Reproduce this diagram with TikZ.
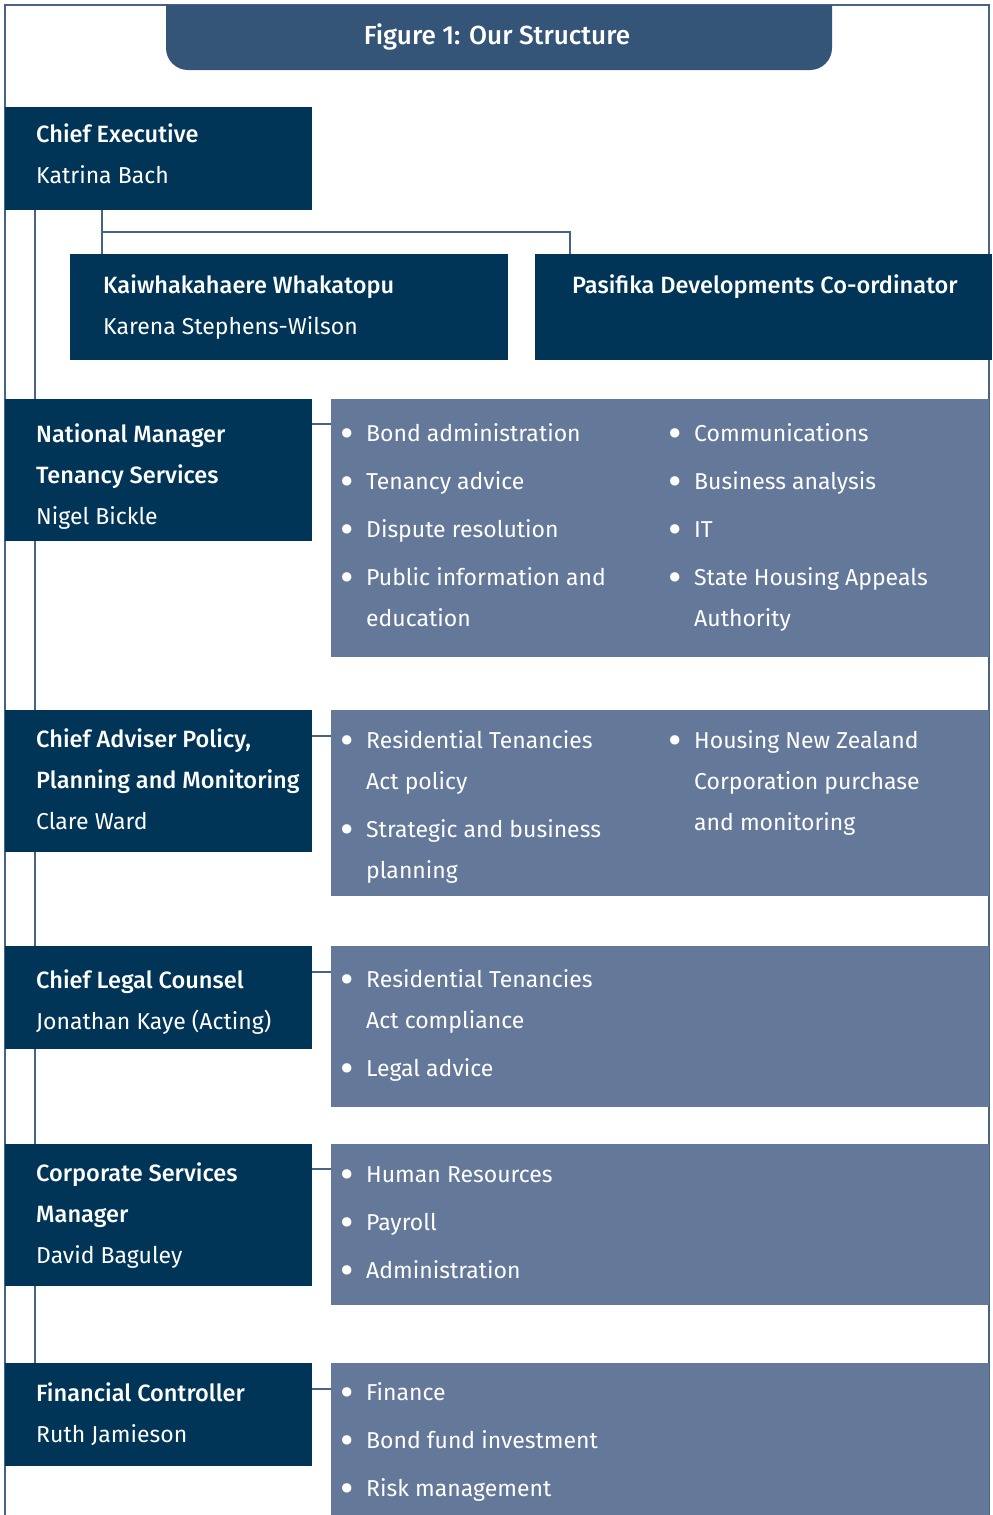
\documentclass[tikz,border=0pt]{standalone}
\usepackage{fontspec}
\setmainfont{Fira Sans}[BoldFont={Fira Sans Medium}, BoldFeatures={Scale=1.025}]

\definecolor{navy}{RGB}{0,53,87}
\definecolor{slate}{RGB}{100,120,154}
\definecolor{banner}{RGB}{52,84,120}
\definecolor{wire}{RGB}{72,100,132}

\newcommand\bul{\makebox[26pt][l]{\raisebox{-6.5pt}{\scalebox{1.8}{\textbullet}}}}
\newcommand\bulpad{\hspace*{26pt}}

\tikzset{
  rolebox/.style={fill=navy, anchor=north west, inner sep=0pt, minimum width=307pt},
  roletext/.style={anchor=west, align=left, inner sep=0pt},
  dutybox/.style={fill=slate, anchor=north west, inner sep=0pt, minimum width=658pt},
  duties/.style={anchor=north west, align=left, inner sep=0pt},
  wire/.style={draw=wire, line width=1.4pt}
}

\begin{document}
\begin{tikzpicture}[x=1pt,y=-1pt,
  every node/.style={font=\fontsize{23}{41}\selectfont, text=white}]
\useasboundingbox (0,0) rectangle (993,1515);

% outer frame, open at the bottom
\draw[wire] (5,1515) -- (5,5) -- (989,5) -- (989,1515);

% title tab
\fill[banner] (166,5) [rounded corners=22pt] -- (166,70) -- (832,70) [sharp corners] -- (832,5) -- cycle;
\node[font=\fontsize{25.5}{30}\selectfont\bfseries] (title) at (497,37) {Figure 1: Our Structure};

% top level
\node[rolebox, minimum height=103pt] (ce) at (5,107) {};
\node[roletext] (ce-t) at ([shift={(31,-5)}]ce.west) {\textbf{Chief Executive}\\Katrina Bach};

\node[rolebox, minimum width=438pt, minimum height=106pt] (kaiw) at (70,254) {};
\node[roletext] (kaiw-t) at ([xshift=33pt]kaiw.west) {\textbf{Kaiwhakahaere Whakatopu}\\Karena Stephens-Wilson};

\node[rolebox, minimum width=457pt, minimum height=106pt] (pasifika) at (535,254) {};
\node[roletext] (pasifika-t) at ([shift={(37,33)}]pasifika.north west) {\textbf{Pasifika Developments Co-ordinator}};

% managers
\node[rolebox, minimum height=142pt] (nm) at (5,399) {};
\node[roletext] (nm-t) at ([shift={(31,6)}]nm.west) {\textbf{National Manager}\\\textbf{Tenancy Services}\\Nigel Bickle};

\node[rolebox, minimum height=142pt] (ca) at (5,710) {};
\node[roletext] (ca-t) at ([shift={(31,-2)}]ca.west) {\textbf{Chief Adviser Policy,}\\\textbf{Planning and Monitoring}\\Clare Ward};

\node[rolebox, minimum height=103pt] (legal) at (5,946) {};
\node[roletext] (legal-t) at ([shift={(31,4)}]legal.west) {\textbf{Chief Legal Counsel}\\Jonathan Kaye (Acting)};

\node[rolebox, minimum height=142pt] (corp) at (5,1144) {};
\node[roletext] (corp-t) at ([xshift=31pt]corp.west) {\textbf{Corporate Services}\\\textbf{Manager}\\David Baguley};

\node[rolebox, minimum height=103pt] (fin) at (5,1363) {};
\node[roletext] (fin-t) at ([shift={(31,-1)}]fin.west) {\textbf{Financial Controller}\\Ruth Jamieson};

% what each one looks after
\node[dutybox, minimum height=258pt] (tenancy) at (331,399) {};
\node[duties] (tenancy-a) at ([shift={(9,24)}]tenancy.north west)
  {\bul Bond administration\\[7pt]\bul Tenancy advice\\[7pt]\bul Dispute resolution\\[7pt]\bul Public information and\\\bulpad education};
\node[duties] (tenancy-b) at ([shift={(337,24)}]tenancy.north west)
  {\bul Communications\\[7pt]\bul Business analysis\\[7pt]\bul IT\\[7pt]\bul State Housing Appeals\\\bulpad Authority};

\node[dutybox, minimum height=186pt] (policy) at (331,710) {};
\node[duties] (policy-a) at ([shift={(9,20)}]policy.north west)
  {\bul Residential Tenancies\\\bulpad Act policy\\[7pt]\bul Strategic and business\\\bulpad planning};
\node[duties] (policy-b) at ([shift={(337,20)}]policy.north west)
  {\bul Housing New Zealand\\\bulpad Corporation purchase\\\bulpad and monitoring};

\node[dutybox, minimum height=161pt] (law) at (331,946) {};
\node[duties] (law-a) at ([shift={(9,23)}]law.north west)
  {\bul Residential Tenancies\\\bulpad Act compliance\\[7pt]\bul Legal advice};

\node[dutybox, minimum height=161pt] (support) at (331,1144) {};
\node[duties] (support-a) at ([shift={(9,22)}]support.north west)
  {\bul Human Resources\\[7pt]\bul Payroll\\[7pt]\bul Administration};

\node[dutybox, minimum height=152pt] (money) at (331,1363) {};
\node[duties] (money-a) at ([shift={(9,19)}]money.north west)
  {\bul Finance\\[7pt]\bul Bond fund investment\\[7pt]\bul Risk management};

% reporting lines
\coordinate (split) at (102,232);
\draw[wire] ([xshift=30pt]ce.south west) -- ([xshift=30pt]nm.north west);
\draw[wire] ([xshift=30pt]nm.south west) -- ([xshift=30pt]ca.north west);
\draw[wire] ([xshift=30pt]ca.south west) -- ([xshift=30pt]legal.north west);
\draw[wire] ([xshift=30pt]legal.south west) -- ([xshift=30pt]corp.north west);
\draw[wire] ([xshift=30pt]corp.south west) -- ([xshift=30pt]fin.north west);
\draw[wire] (split |- ce.south) -- (split) -| ([xshift=35pt]pasifika.north west);
\draw[wire] (split) -- (split |- kaiw.north);

\draw[wire] ([yshift=-25pt]nm.north east) -- ([yshift=-25pt]nm.north east -| tenancy.west);
\draw[wire] ([yshift=-26pt]ca.north east) -- ([yshift=-26pt]ca.north east -| policy.west);
\draw[wire] ([yshift=-26pt]legal.north east) -- ([yshift=-26pt]legal.north east -| law.west);
\draw[wire] ([yshift=-25pt]corp.north east) -- ([yshift=-25pt]corp.north east -| support.west);
\draw[wire] ([yshift=-26pt]fin.north east) -- ([yshift=-26pt]fin.north east -| money.west);
\end{tikzpicture}
\end{document}
